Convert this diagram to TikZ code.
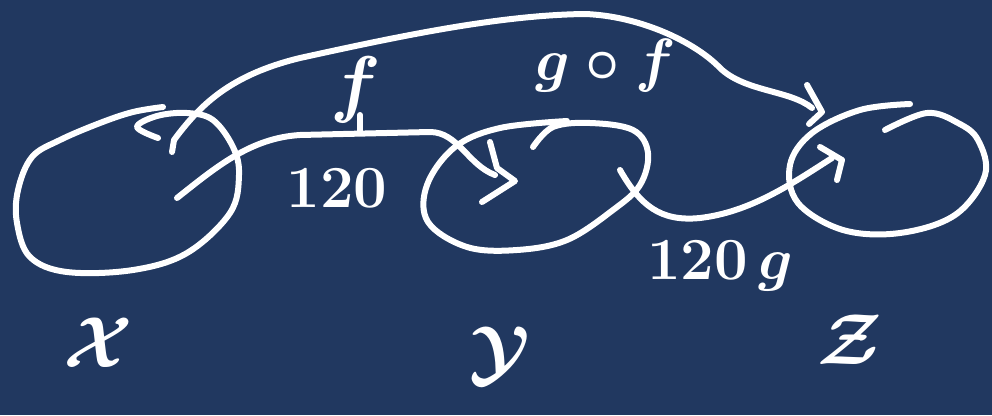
\documentclass[tikz,border=0pt]{standalone}
\usepackage{amsmath, amssymb}
\usepackage{tikz}
\usepackage{xcolor}
\definecolor{board}{RGB}{33,56,96}

\begin{document}
\begin{tikzpicture}[x=1pt,y=-1pt,
  pen/.style={white,line width=6pt,line cap=round,line join=round},
  chalk/.style={white,font=\Huge\bfseries\boldmath,scale=2.4},
  bigchalk/.style={white,font=\Huge\bfseries\boldmath,scale=2.9}]
\fill[board] (0,0) rectangle (992,415);
\useasboundingbox (0,0) rectangle (992,415);
% the three sets
\draw[pen] plot[smooth,tension=0.6] coordinates {(158,138) (137,127) (157,116) (187,113) (213,120) (233,147) (239,175) (230,213) (187,253) (133,270) (67,272) (30,257) (17,223) (18,190) (32,157) (60,140) (100,123) (133,112) (163,107)};
\draw[pen] plot[smooth,tension=0.6] coordinates {(567,121) (500,128) (455,147) (427,185) (428,222) (467,247) (517,250) (567,240) (613,210) (640,185) (648,153) (633,130) (590,123) (553,127) (533,147)};
\draw[pen] plot[smooth,tension=0.6] coordinates {(910,104) (860,110) (812,133) (790,165) (798,203) (843,230) (900,233) (955,215) (985,175) (978,140) (958,123) (927,113) (885,130)};
% end points of the maps
\coordinate (fstart) at (177,198);
\coordinate (ftip) at (515,181);
\coordinate (gstart) at (620,170);
\coordinate (gtip) at (842,160);
\coordinate (gfstart) at (172,152);
\coordinate (gftip) at (822,112);
% f
\draw[pen] (fstart) .. controls (215,168) and (250,138) .. (300,135) -- (430,132) .. controls (458,132) and (468,165) .. (495,175);
\draw[pen] (490,142) -- (497,168) -- (ftip) -- (482,202);
\draw[pen] (360,132) -- (360,115);
% g
\draw[pen] (gstart) .. controls (640,205) and (660,222) .. (700,218) .. controls (750,212) and (790,185) .. (832,158);
\draw[pen] (820,147) -- (gtip) -- (837,180);
% g o f
\draw[pen] (gfstart) -- (174,140) .. controls (200,105) and (230,75) .. (300,58) .. controls (400,36) and (500,15) .. (585,14) .. controls (640,16) and (695,42) .. (720,68) .. controls (745,92) and (790,90) .. (812,108);
\draw[pen] (807,85) -- (gftip) -- (809,124);
% labels
\node[chalk,scale=1.25] (lblf) at (356,90){$f$};
\node[chalk] (iso1) at (337,188){120};
\node[chalk] (lblgf) at (606,66){$g\circ f$};
\node[chalk] (iso2) at (720,266){120\,$g$};
\node[bigchalk] (lblX) at (98,343){$\mathcal{X}$};
\node[bigchalk] (lblY) at (500,355){$\mathcal{Y}$};
\node[bigchalk] (lblZ) at (850,340){$\mathcal{Z}$};
\end{tikzpicture}
\end{document}
